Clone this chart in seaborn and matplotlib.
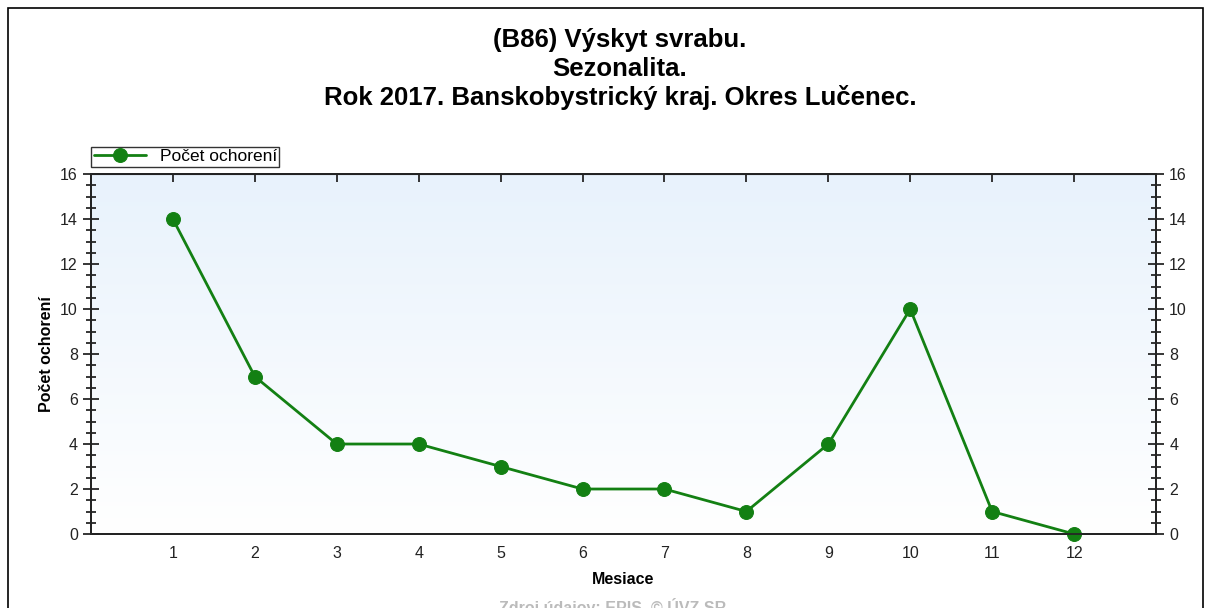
import numpy as np
import pandas as pd
import matplotlib
matplotlib.use("Agg")
import matplotlib.pyplot as plt
import seaborn as sns
from matplotlib.ticker import MultipleLocator

months = [1, 2, 3, 4, 5, 6, 7, 8, 9, 10, 11, 12]
cases = [14, 7, 4, 4, 3, 2, 2, 1, 4, 10, 1, 0]
series_name = "Počet ochorení"

df = pd.DataFrame({"Mesiace": months, series_name: cases})

sns.set_style("white")
plt.rcParams['font.family'] = ['Liberation Sans', 'DejaVu Sans']
plt.rcParams['text.color'] = 'black'
plt.rcParams['axes.labelcolor'] = 'black'

fig = plt.figure(figsize=(12.13, 6.08), dpi=100)
ax = fig.add_axes([0.075, 0.1217, 0.878, 0.592])

# background gradient (light blue at top -> white at bottom)
grad = np.linspace(0, 1, 256).reshape(-1, 1)
cmap = matplotlib.colors.LinearSegmentedColormap.from_list("bg", ["#ffffff", "#e8f2fc"])
ax.imshow(grad, aspect='auto', cmap=cmap, extent=[0, 13, 0, 16], origin='lower', zorder=0)

sns.lineplot(data=df, x="Mesiace", y=series_name, ax=ax, color="#138013",
             marker="o", markersize=10, linewidth=2, markeredgecolor="#138013",
             label=series_name, zorder=3, clip_on=False)

ax.set_xlim(0, 13)
ax.set_ylim(0, 16)
ax.set_xticks(months)
ax.set_yticks(range(0, 17, 2))
ax.yaxis.set_minor_locator(MultipleLocator(0.5))
ax.tick_params(axis='x', which='major', direction='inout', length=10, width=1.3,
               top=False, labelsize=11.5, colors='black')
ax.tick_params(axis='y', which='major', direction='inout', length=12, width=1.3,
               left=True, labelsize=11.5)
ax.tick_params(axis='y', which='minor', direction='inout', length=7, width=1.3, left=True)
ax.tick_params(axis='both', labelcolor='#222222')
ax.set_xlabel("Mesiace", fontsize=11.5, fontweight='bold', labelpad=8)
ax.set_ylabel("Počet ochorení", fontsize=11.5, fontweight='bold')
for s in ax.spines.values():
    s.set_linewidth(1.3)
    s.set_color('black')

# top ticks pointing inward
top = ax.secondary_xaxis('top')
top.set_xticks(months)
top.tick_params(axis='x', direction='in', length=6, width=1.3, labeltop=False)

ax2 = ax.twinx()
ax2.set_ylim(0, 16)
ax2.set_yticks(range(0, 17, 2))
ax2.yaxis.set_minor_locator(MultipleLocator(0.5))
ax2.tick_params(axis='y', which='major', direction='inout', length=12, width=1.3,
                right=True, labelsize=11.5, labelcolor='#222222')
ax2.tick_params(axis='y', which='minor', direction='inout', length=7, width=1.3, right=True)
for s in ax2.spines.values():
    s.set_linewidth(1.3)

leg = ax.legend(loc='lower left', bbox_to_anchor=(0.0, 1.02), frameon=True,
                fancybox=False, edgecolor='black', fontsize=12.5,
                borderpad=0.15, handlelength=3, borderaxespad=0)
leg.get_frame().set_linewidth(1.0)

fig.text(0.511, 0.922, "(B86) Výskyt svrabu.", ha='center', fontsize=18.5, fontweight='bold')
fig.text(0.511, 0.875, "Sezonalita.", ha='center', fontsize=18.5, fontweight='bold')
fig.text(0.511, 0.828, "Rok 2017. Banskobystrický kraj. Okres Lučenec.", ha='center',
         fontsize=18.5, fontweight='bold')
fig.text(0.505, -0.008, "Zdroj údajov: EPIS, © ÚVZ SR", ha='center', fontsize=11.5,
         color='#bbbbbb', fontweight='bold')

# outer frame
frame = plt.Rectangle((0.007, -0.05), 0.985, 1.037, transform=fig.transFigure,
                      fill=False, edgecolor='black', linewidth=1.2)
fig.patches.append(frame)

fig.savefig("out.png", dpi=100)
